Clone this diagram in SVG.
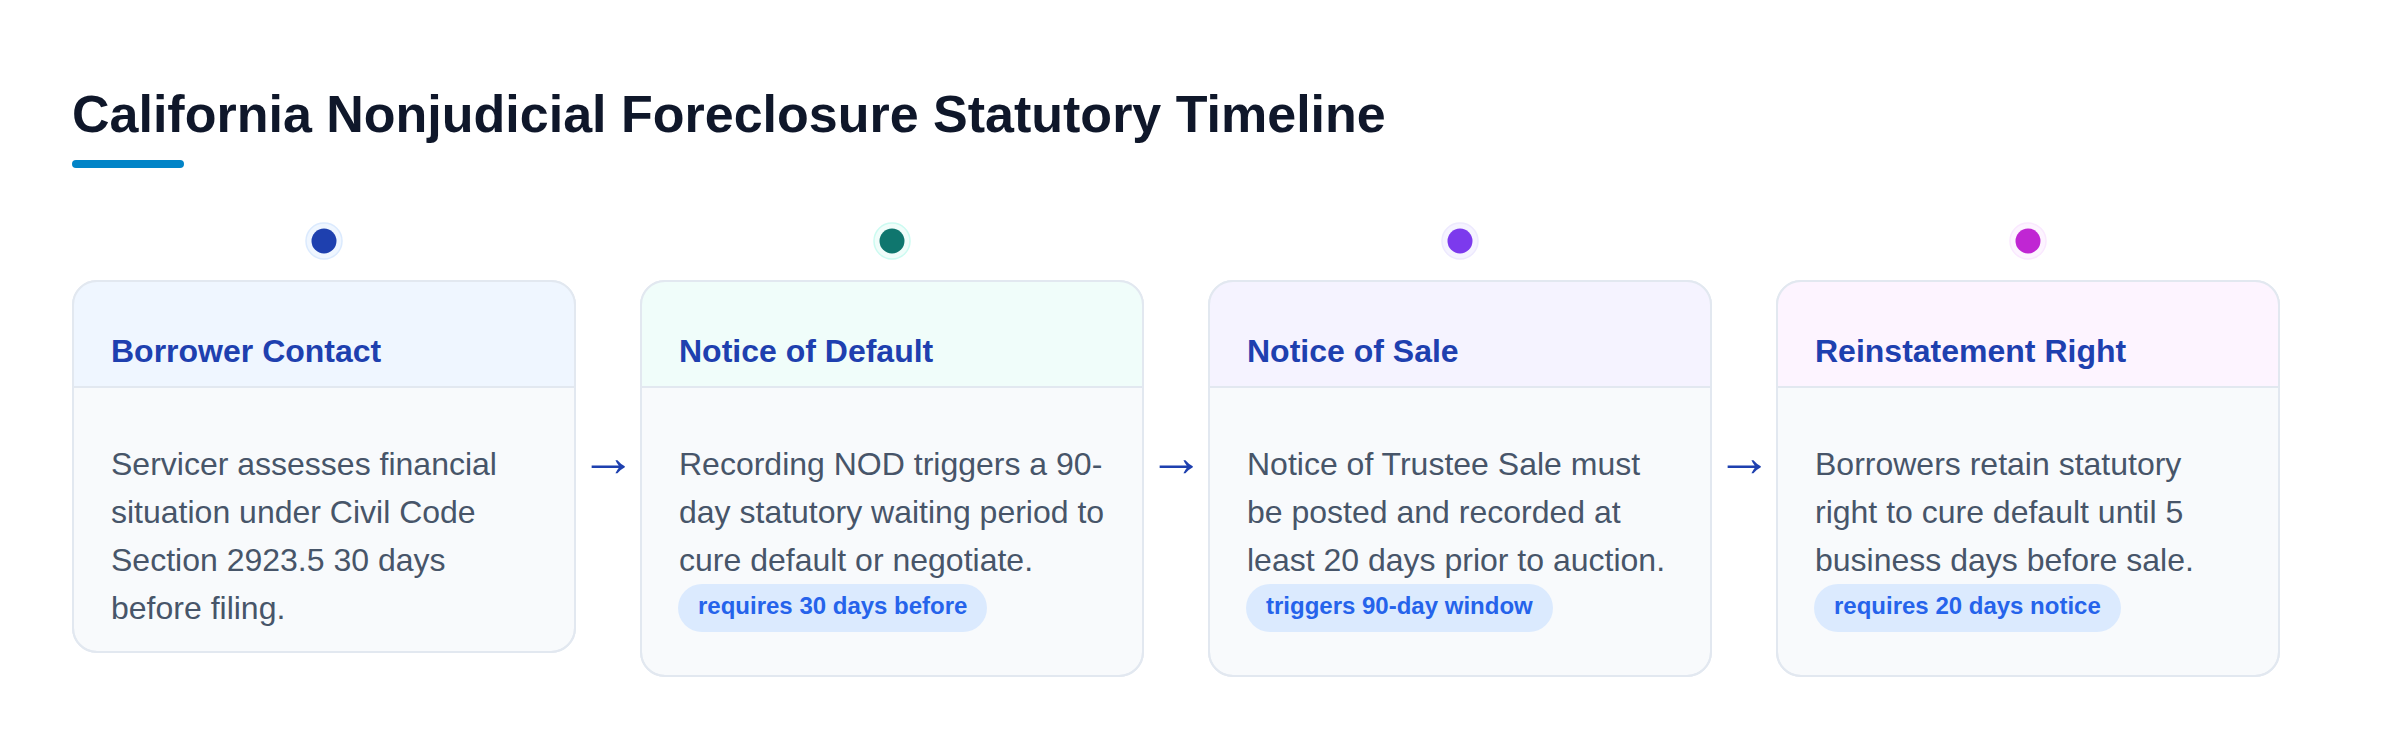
<svg xmlns="http://www.w3.org/2000/svg" width="2400" height="750" viewBox="0 0 2400 750">
<style>
.title{font-family:"Liberation Sans",Arial,sans-serif;font-weight:700;font-size:52px;fill:#0f172a}
.card{fill:#f8fafc;stroke:#e2e8f0;stroke-width:2}
.divider{stroke:#e2e8f0;stroke-width:2}
.head{font-family:"Liberation Sans",Arial,sans-serif;font-weight:700;font-size:32px;fill:#1e40af}
.body{font-family:"Liberation Sans",Arial,sans-serif;font-size:32px;fill:#475569}
.pill{fill:#dbeafe}
.tag{font-family:"Liberation Sans",Arial,sans-serif;font-weight:700;font-size:24px;fill:#2563eb}
.arrow{font-family:"Liberation Sans",Arial,sans-serif;font-size:56px;fill:#1e40af}
</style>
<defs>
<clipPath id="c1"><rect x="73" y="281" width="502" height="371" rx="24"/></clipPath>
<clipPath id="c2"><rect x="641" y="281" width="502" height="395" rx="24"/></clipPath>
<clipPath id="c3"><rect x="1209" y="281" width="502" height="395" rx="24"/></clipPath>
<clipPath id="c4"><rect x="1777" y="281" width="502" height="395" rx="24"/></clipPath>
</defs>
<rect width="2400" height="750" fill="#ffffff"/>
<g id="title">
<text class="title" x="72" y="132">California Nonjudicial Foreclosure Statutory Timeline</text>
<rect x="72" y="160" width="112" height="8" rx="4" fill="#0284c7"/>
</g>
<g id="node-borrower-contact">
<circle cx="324" cy="241" r="18" fill="#eff6ff" stroke="#dbeafe" stroke-width="1.5"/>
<circle cx="324" cy="241" r="12.5" fill="#1e40af"/>
<rect class="card" x="73" y="281" width="502" height="371" rx="24"/>
<rect x="73" y="281" width="502" height="106" fill="#eff6ff" clip-path="url(#c1)"/>
<rect x="73" y="281" width="502" height="371" rx="24" fill="none" stroke="#e2e8f0" stroke-width="2"/>
<line class="divider" x1="74" y1="387" x2="574" y2="387"/>
<text class="head" x="111" y="362">Borrower Contact</text>
<text class="body" x="111" y="475">Servicer assesses financial</text>
<text class="body" x="111" y="523">situation under Civil Code</text>
<text class="body" x="111" y="571">Section 2923.5 30 days</text>
<text class="body" x="111" y="619">before filing.</text>
</g>
<g id="node-notice-of-default">
<circle cx="892" cy="241" r="18" fill="#f0fdfa" stroke="#ccfbf1" stroke-width="1.5"/>
<circle cx="892" cy="241" r="12.5" fill="#0f766e"/>
<rect class="card" x="641" y="281" width="502" height="395" rx="24"/>
<rect x="641" y="281" width="502" height="106" fill="#f0fdfa" clip-path="url(#c2)"/>
<rect x="641" y="281" width="502" height="395" rx="24" fill="none" stroke="#e2e8f0" stroke-width="2"/>
<line class="divider" x1="642" y1="387" x2="1142" y2="387"/>
<text class="head" x="679" y="362">Notice of Default</text>
<text class="body" x="679" y="475">Recording NOD triggers a 90-</text>
<text class="body" x="679" y="523">day statutory waiting period to</text>
<text class="body" x="679" y="571">cure default or negotiate.</text>
<rect class="pill" x="678" y="584" width="309" height="48" rx="24"/>
<text class="tag" x="698" y="614">requires 30 days before</text>
</g>
<g id="node-notice-of-sale">
<circle cx="1460" cy="241" r="18" fill="#f5f3ff" stroke="#ede9fe" stroke-width="1.5"/>
<circle cx="1460" cy="241" r="12.5" fill="#7c3aed"/>
<rect class="card" x="1209" y="281" width="502" height="395" rx="24"/>
<rect x="1209" y="281" width="502" height="106" fill="#f5f3ff" clip-path="url(#c3)"/>
<rect x="1209" y="281" width="502" height="395" rx="24" fill="none" stroke="#e2e8f0" stroke-width="2"/>
<line class="divider" x1="1210" y1="387" x2="1710" y2="387"/>
<text class="head" x="1247" y="362">Notice of Sale</text>
<text class="body" x="1247" y="475">Notice of Trustee Sale must</text>
<text class="body" x="1247" y="523">be posted and recorded at</text>
<text class="body" x="1247" y="571">least 20 days prior to auction.</text>
<rect class="pill" x="1246" y="584" width="307" height="48" rx="24"/>
<text class="tag" x="1266" y="614">triggers 90-day window</text>
</g>
<g id="node-reinstatement-right">
<circle cx="2028" cy="241" r="18" fill="#fdf4ff" stroke="#fae8ff" stroke-width="1.5"/>
<circle cx="2028" cy="241" r="12.5" fill="#c026d3"/>
<rect class="card" x="1777" y="281" width="502" height="395" rx="24"/>
<rect x="1777" y="281" width="502" height="106" fill="#fdf4ff" clip-path="url(#c4)"/>
<rect x="1777" y="281" width="502" height="395" rx="24" fill="none" stroke="#e2e8f0" stroke-width="2"/>
<line class="divider" x1="1778" y1="387" x2="2278" y2="387"/>
<text class="head" x="1815" y="362">Reinstatement Right</text>
<text class="body" x="1815" y="475">Borrowers retain statutory</text>
<text class="body" x="1815" y="523">right to cure default until 5</text>
<text class="body" x="1815" y="571">business days before sale.</text>
<rect class="pill" x="1814" y="584" width="307" height="48" rx="24"/>
<text class="tag" x="1834" y="614">requires 20 days notice</text>
</g>
<g id="connectors">
<text class="arrow" x="608" y="476" text-anchor="middle">→</text>
<text class="arrow" x="1176" y="476" text-anchor="middle">→</text>
<text class="arrow" x="1744" y="476" text-anchor="middle">→</text>
</g>
</svg>
